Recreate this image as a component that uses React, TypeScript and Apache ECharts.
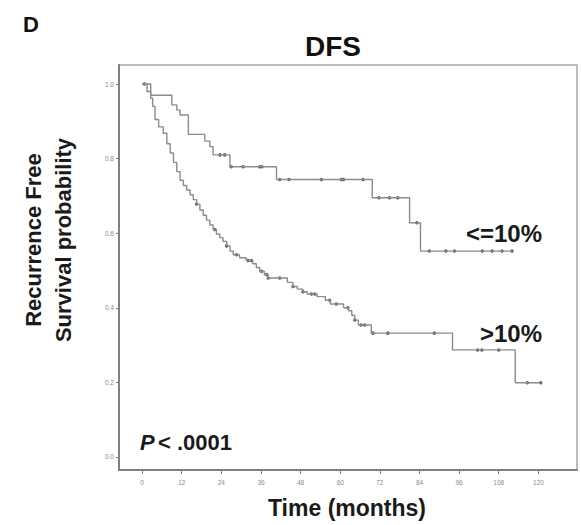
import React, { useEffect, useRef } from "react";
import * as echarts from "echarts";

const monthTicks = [0, 12, 24, 36, 48, 60, 72, 84, 96, 108, 120];
const probTicks = [0, 0.2, 0.4, 0.6, 0.8, 1.0];

// <=10% group: [time (months), survival after event]
const lowGroupSteps: [number, number][] = [
  [0, 1.0], [2.6, 0.97], [9, 0.944], [10.5, 0.93], [11.5, 0.917], [14, 0.865],
  [19, 0.847], [20.5, 0.832], [21.5, 0.81], [26.6, 0.778], [40.7, 0.744],
  [69.7, 0.695], [81, 0.628], [84.3, 0.552], [112, 0.552],
];
const lowGroupCensored: [number, number][] = [
  [0.7, 1.0], [23.6, 0.81], [25, 0.81], [27, 0.778], [30.6, 0.778], [35.6, 0.778],
  [36.3, 0.778], [41.7, 0.744], [44.5, 0.744], [54.3, 0.744], [60.3, 0.744],
  [61, 0.744], [66.9, 0.744], [71.7, 0.695], [74.9, 0.695], [77.4, 0.695],
  [83.2, 0.628], [87, 0.552], [92, 0.552], [94.6, 0.552], [103, 0.552],
  [106, 0.552], [109, 0.552], [112, 0.552],
];

// >10% group
const highGroupSteps: [number, number][] = [
  [0, 1.0], [1.5, 0.98], [2.6, 0.962], [3.2, 0.94], [3.9, 0.905], [5, 0.885],
  [6.4, 0.868], [7.5, 0.84], [8.5, 0.815], [9.5, 0.79], [10.5, 0.765],
  [11.5, 0.742], [12.5, 0.728], [13.5, 0.716], [14.5, 0.703], [15.5, 0.69],
  [16.5, 0.678], [17.5, 0.662], [18.5, 0.648], [19.5, 0.635], [20.5, 0.622],
  [21.5, 0.61], [22.5, 0.598], [23.5, 0.588], [24.5, 0.578], [25.6, 0.566],
  [26.6, 0.552], [27.6, 0.542], [29.5, 0.534], [31.5, 0.527], [33.5, 0.518],
  [34.6, 0.508], [35.6, 0.498], [37, 0.489], [38.2, 0.48], [44, 0.468],
  [45.7, 0.457], [47, 0.45], [48.7, 0.443], [50, 0.437], [53, 0.43],
  [55.5, 0.42], [57, 0.41], [61, 0.4], [62.5, 0.392], [63.5, 0.38],
  [64.4, 0.367], [65.5, 0.354], [69.4, 0.332], [94, 0.287], [113, 0.199],
  [120.7, 0.199],
];
const highGroupCensored: [number, number][] = [
  [16.5, 0.678], [22, 0.61], [25.6, 0.566], [28.6, 0.542], [32.1, 0.527],
  [33.1, 0.527], [36.2, 0.498], [37.7, 0.489], [38.2, 0.48], [41.7, 0.48],
  [45.7, 0.457], [48.7, 0.443], [51.3, 0.437], [52.3, 0.437], [56.8, 0.42],
  [58.8, 0.41], [62.3, 0.4], [64.4, 0.367], [66.3, 0.354], [67.4, 0.354],
  [69.9, 0.332], [74.4, 0.332], [88.5, 0.332], [101.6, 0.287], [102.9, 0.287],
  [108, 0.287], [116.7, 0.199], [120.7, 0.199],
];

const FONT = "'Liberation Sans', Arial, Helvetica, sans-serif";

export default function App() {
  const ref = useRef<HTMLDivElement>(null);
  useEffect(() => {
    if (!ref.current) return;
    const chart = echarts.init(ref.current, null, { renderer: "svg" });
    const lineColor = "#8c8c8c";
    const markColor = "#3a3a3a";
    chart.setOption({
      animation: false,
      backgroundColor: "#ffffff",
      grid: {
        left: 119,
        top: 65,
        right: 4,
        bottom: 55,
        show: true,
        borderColor: "#a8a8a8",
        borderWidth: 1.5,
        backgroundColor: "transparent",
      },
      xAxis: {
        type: "value",
        min: -7,
        max: 131.7,
        axisLine: { show: true, onZero: false, lineStyle: { color: "#808080", width: 2 } },
        axisTick: {
          show: true,
          length: 4,
          customValues: monthTicks,
          lineStyle: { color: "#808080", width: 1 },
        },
        axisLabel: {
          customValues: monthTicks,
          color: "#8a8a8a",
          fontSize: 6.5,
          fontFamily: FONT,
          margin: 9,
          formatter: (v: number) => String(v),
        },
        splitLine: { show: false },
      },
      yAxis: {
        type: "value",
        min: -0.035,
        max: 1.051,
        axisLine: { show: true, onZero: false, lineStyle: { color: "#808080", width: 2 } },
        axisTick: {
          show: true,
          length: 3,
          customValues: probTicks,
          lineStyle: { color: "#808080", width: 1 },
        },
        axisLabel: {
          customValues: probTicks,
          color: "#8a8a8a",
          fontSize: 6.5,
          fontFamily: FONT,
          margin: 5,
          formatter: (v: number) => v.toFixed(1),
        },
        splitLine: { show: false },
      },
      series: [
        {
          name: "<=10%",
          type: "line",
          step: "end",
          data: lowGroupSteps,
          symbol: "none",
          lineStyle: { color: lineColor, width: 1.4 },
        },
        {
          name: ">10%",
          type: "line",
          step: "end",
          data: highGroupSteps,
          symbol: "none",
          lineStyle: { color: lineColor, width: 1.4 },
        },
        {
          name: "<=10% censored",
          type: "scatter",
          data: lowGroupCensored,
          symbol: "circle",
          symbolSize: 3.5,
          itemStyle: { color: markColor },
        },
        {
          name: ">10% censored",
          type: "scatter",
          data: highGroupCensored,
          symbol: "circle",
          symbolSize: 3.5,
          itemStyle: { color: markColor },
        },
      ],
      graphic: [
        {
          type: "text",
          x: 31,
          y: 24,
          style: {
            text: "D",
            font: `bold 22px ${FONT}`,
            fill: "#111",
            textAlign: "center",
            textVerticalAlign: "middle",
          },
        },
        {
          type: "text",
          x: 333,
          y: 46,
          style: {
            text: "DFS",
            font: `bold 28px ${FONT}`,
            fill: "#111",
            textAlign: "center",
            textVerticalAlign: "middle",
          },
        },
        {
          type: "text",
          x: 48,
          y: 240,
          rotation: Math.PI / 2,
          style: {
            text: "Recurrence Free\nSurvival probability",
            font: `bold 22px ${FONT}`,
            lineHeight: 30,
            fill: "#1a1a1a",
            textAlign: "center",
            textVerticalAlign: "middle",
          },
        },
        {
          type: "text",
          x: 347,
          y: 508,
          style: {
            text: "Time (months)",
            font: `bold 23px ${FONT}`,
            fill: "#1a1a1a",
            textAlign: "center",
            textVerticalAlign: "middle",
          },
        },
        {
          type: "text",
          x: 542,
          y: 233,
          style: {
            text: "<=10%",
            font: `bold 24px ${FONT}`,
            fill: "#1a1a1a",
            textAlign: "right",
            textVerticalAlign: "middle",
          },
        },
        {
          type: "text",
          x: 542,
          y: 333,
          style: {
            text: ">10%",
            font: `bold 24px ${FONT}`,
            fill: "#1a1a1a",
            textAlign: "right",
            textVerticalAlign: "middle",
          },
        },
        {
          type: "text",
          x: 140,
          y: 442,
          style: {
            rich: {
              p: { font: `italic bold 22px ${FONT}`, fill: "#1a1a1a" },
              r: { font: `bold 22px ${FONT}`, fill: "#1a1a1a" },
            },
            text: "{p|P} {r|< .0001}",
            textAlign: "left",
            textVerticalAlign: "middle",
          },
        },
      ],
    });
    return () => chart.dispose();
  }, []);
  return (
    <div
      ref={ref}
      style={{ position: "absolute", left: 0, top: 0, width: 581, height: 525 }}
    />
  );
}
